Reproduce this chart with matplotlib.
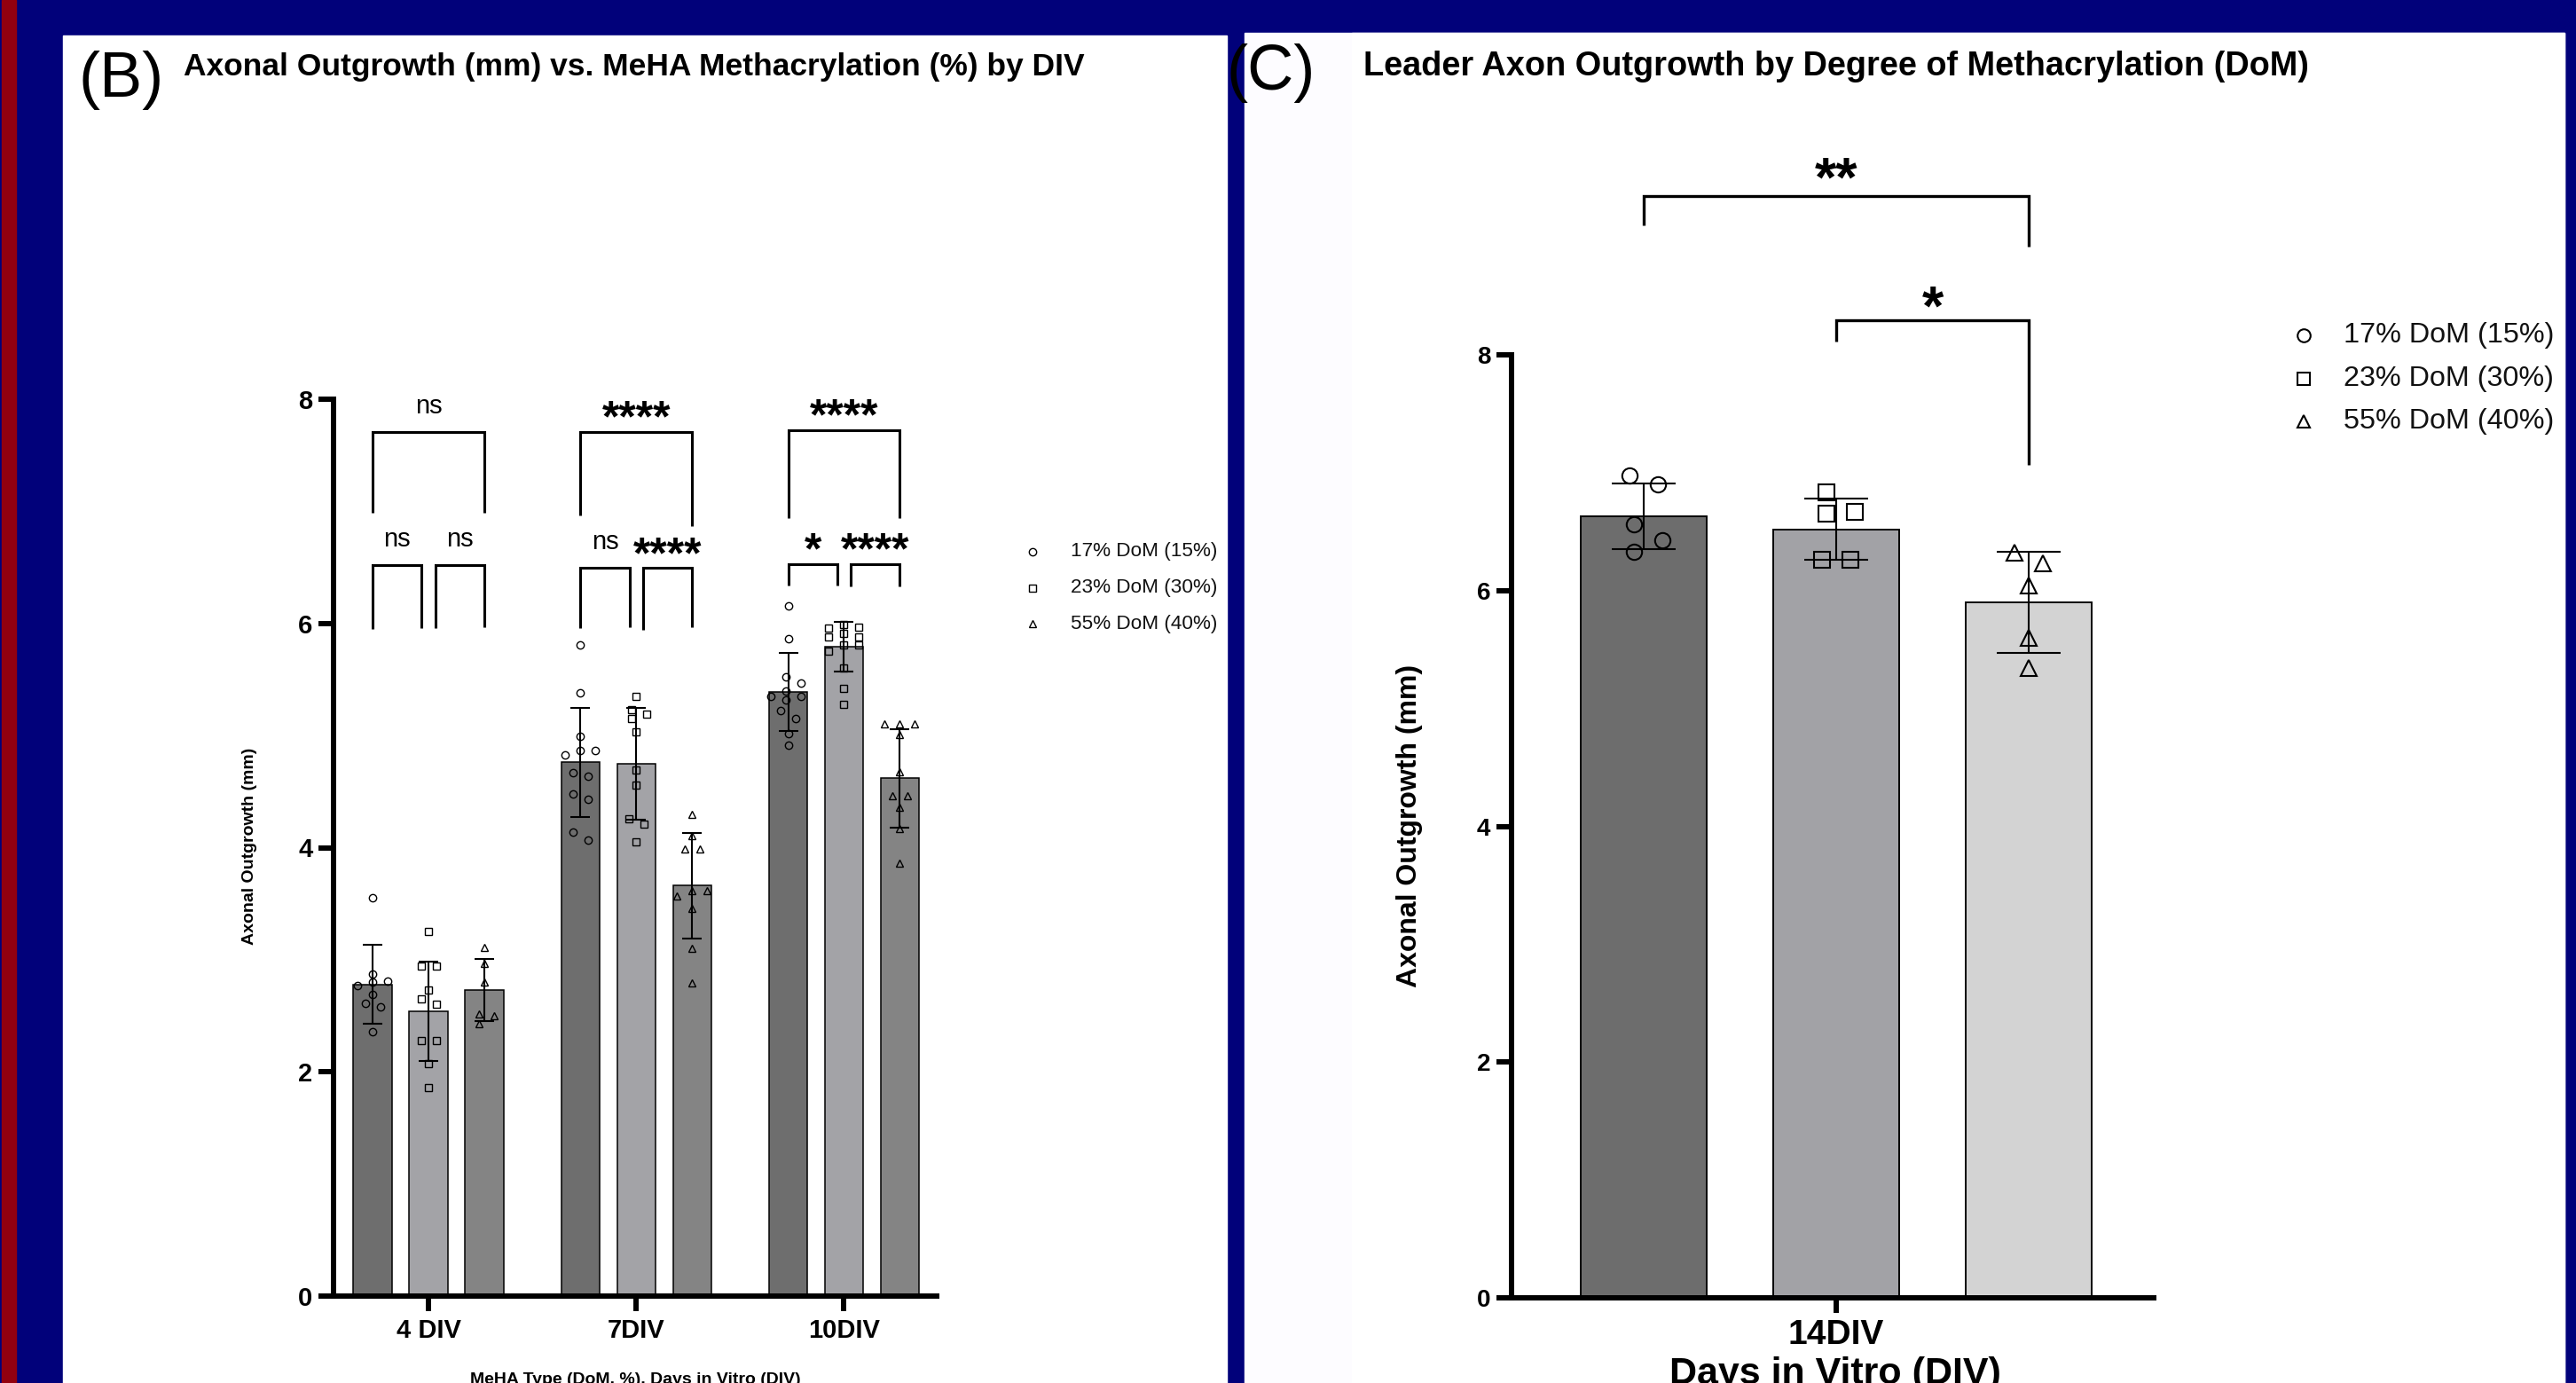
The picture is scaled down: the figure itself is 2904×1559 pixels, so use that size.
import numpy as np
import matplotlib
matplotlib.use("Agg")
import matplotlib.pyplot as plt
import matplotlib.transforms as mtransforms
from matplotlib.patches import Rectangle
from matplotlib.lines import Line2D

plt.rcParams['font.family'] = ['Liberation Sans', 'DejaVu Sans']

W, H = 2904, 1559
DPI = 100

# --- data ---
series = ["17% DoM (15%)", "23% DoM (30%)", "55% DoM (40%)"]
markers = ["o", "s", "^"]

# panel B: outgrowth by DIV (rows = DIV groups, columns = series)
b_groups = ["4 DIV", "7DIV", "10DIV"]
b_means = [[2.78, 2.54, 2.73],
           [4.76, 4.75, 3.66],
           [5.39, 5.79, 4.62]]
b_sd = [[0.35, 0.44, 0.28],
        [0.49, 0.50, 0.47],
        [0.35, 0.22, 0.44]]
b_pts_4div = [[3.55, 2.87, 2.81, 2.80, 2.77, 2.69, 2.61, 2.58, 2.36],
              [3.25, 2.94, 2.94, 2.73, 2.65, 2.60, 2.28, 2.28, 2.07, 1.86],
              [3.11, 2.97, 2.80, 2.52, 2.50, 2.43]]
b_pts_7div = [[5.81, 5.38, 4.99, 4.87, 4.87, 4.83, 4.67, 4.64, 4.48, 4.43, 4.14, 4.07],
              [5.35, 5.23, 5.19, 5.15, 5.03, 4.69, 4.56, 4.26, 4.21, 4.05],
              [4.30, 4.11, 3.99, 3.99, 3.62, 3.62, 3.57, 3.46, 3.10, 2.79]]
b_pts_10div = [[6.16, 5.86, 5.52, 5.47, 5.40, 5.35, 5.35, 5.32, 5.22, 5.15, 5.02, 4.91],
               [5.99, 5.97, 5.96, 5.91, 5.88, 5.88, 5.81, 5.81, 5.75, 5.60, 5.42, 5.28],
               [5.10, 5.10, 5.10, 5.01, 4.68, 4.46, 4.46, 4.36, 4.17, 3.86]]
b_points = [b_pts_4div, b_pts_7div, b_pts_10div]

# significance brackets per group: (bar a, bar b, top, left end, right end, label, label y)
b_sig_4div = [(0, 2, 7.71, 6.99, 6.99, "ns", 7.93),
              (0, 1, 6.52, 5.95, 5.96, "ns", 6.75),
              (1, 2, 6.52, 5.96, 5.97, "ns", 6.75)]
b_sig_7div = [(0, 2, 7.71, 6.96, 6.87, "****", 7.91),
              (0, 1, 6.50, 5.96, 5.97, "ns", 6.72),
              (1, 2, 6.50, 5.94, 5.97, "****", 6.69)]
b_sig_10div = [(0, 2, 7.72, 6.94, 6.94, "****", 7.93),
               (0, 1, 6.53, 6.34, 6.34, "*", 6.73),
               (1, 2, 6.53, 6.33, 6.33, "****", 6.73)]
b_sig = [b_sig_4div, b_sig_7div, b_sig_10div]

# panel C: 14 DIV leader axon
c_group = "14DIV"
c_means = [6.63, 6.52, 5.90]
c_sd = [0.28, 0.26, 0.43]
c_points = [[6.98, 6.90, 6.56, 6.43, 6.33],
            [6.83, 6.67, 6.65, 6.26, 6.26],
            [6.32, 6.23, 6.04, 5.60, 5.34]]
c_sig = [(0, 2, 9.35, 9.10, 8.92, "**", 9.56),
         (1, 2, 8.29, 8.11, 7.07, "*", 8.47)]

b_colors = ["#6e6e6e", "#a3a3a7", "#848484"]
c_colors = ["#6d6d6d", "#a2a2a6", "#d3d3d3"]


def fx(x):
    return x / W


def fy(y):
    return 1 - y / H


def swarm(vals, d, thr):
    # simple beeswarm: place each point at the nearest free column, then recenter clusters
    vals = np.asarray(vals, dtype=float)
    order = np.argsort(-vals, kind="stable")
    offs = np.zeros(len(vals))
    placed = []
    for i in order:
        for k in [0, 1, -1, 2, -2, 3, -3]:
            o = k * d
            if all(abs(vals[i] - vals[j]) >= thr or abs(o - offs[j]) >= d * 0.99 for j in placed):
                break
        offs[i] = o
        placed.append(i)
    cluster = [order[0]]
    for a, b in zip(order[:-1], order[1:]):
        if vals[a] - vals[b] < thr:
            cluster.append(b)
        else:
            offs[cluster] -= offs[cluster].mean()
            cluster = [b]
    offs[cluster] -= offs[cluster].mean()
    return offs


def style_axes(ax, lw=4.3):
    ax.set_facecolor("none")
    for s in ["top", "right"]:
        ax.spines[s].set_visible(False)
    for s in ["left", "bottom"]:
        ax.spines[s].set_linewidth(lw)
    ax.tick_params(length=12, width=lw, direction="out", colors="black")


def sig_label(ax, x, y, label, fs_star, fs_ns, star_shift=0.50):
    if "*" in label:
        tr = mtransforms.offset_copy(ax.transData, fig=ax.figure, y=-star_shift * fs_star, units="points")
        ax.text(x, y, label, ha="center", va="baseline", fontsize=fs_star,
                fontweight="bold", transform=tr, clip_on=False)
    else:
        tr = mtransforms.offset_copy(ax.transData, fig=ax.figure, y=-0.26 * fs_ns, units="points")
        ax.text(x, y, label, ha="center", va="baseline", fontsize=fs_ns,
                transform=tr, clip_on=False)


fig = plt.figure(figsize=(W / DPI, H / DPI), dpi=DPI, facecolor="#01017a")

# background panels
fig.add_artist(Rectangle((fx(2), 0), 16 / W, 1, color="#92000f", transform=fig.transFigure, zorder=0))
fig.add_artist(Rectangle((fx(71), 0), (1383 - 71) / W, fy(40), color="white",
                         transform=fig.transFigure, zorder=0))
fig.add_artist(Rectangle((fx(1403), 0), (2891 - 1403) / W, fy(37), color="#fdfcff",
                         transform=fig.transFigure, zorder=0))
fig.add_artist(Rectangle((fx(1524), 0), (2891 - 1524) / W, fy(37), color="white",
                         transform=fig.transFigure, zorder=0))

# ---------------- panel B ----------------
axb = fig.add_axes([fx(376), fy(1461), (1056 - 376) / W, (1461 - 450) / H])
style_axes(axb)
group_step = 3.72
for g in range(3):
    for j in range(3):
        x = g * group_step + j
        axb.bar(x, b_means[g][j], width=0.69, color=b_colors[j], edgecolor="black",
                linewidth=1.1, zorder=2)
        axb.errorbar(x, b_means[g][j], yerr=b_sd[g][j], fmt="none", ecolor="black",
                     elinewidth=1.5, capsize=7.6, capthick=1.5, zorder=3)
        pts = b_points[g][j]
        offs = swarm(pts, 0.27, 0.07)
        axb.plot(x + offs, pts, linestyle="none", marker=markers[j], mfc="none",
                 mec="black", ms=6, mew=1.0, zorder=4, clip_on=False)
    gap = 0.12
    for a, b, top, yl, yr, lab, ylab in b_sig[g]:
        x1 = g * group_step + a + (gap if a == 1 else 0)
        x2 = g * group_step + b - (gap if b == 1 else 0)
        axb.plot([x1, x1, x2, x2], [yl, top, top, yr], color="black", lw=2.2,
                 clip_on=False, solid_joinstyle="miter", solid_capstyle="butt")
        sig_label(axb, (x1 + x2) / 2, ylab, lab, 36, 21, star_shift=0.50)

axb.set_xlim(-0.70, 10.1)
axb.set_ylim(0, 8)
axb.set_yticks([0, 2, 4, 6, 8])
axb.set_xticks([g * group_step + 1 for g in range(3)])
axb.set_xticklabels(b_groups, fontsize=21, fontweight="bold")
axb.tick_params(axis="y", labelsize=21, pad=5)
axb.tick_params(axis="x", pad=6)
for t in axb.get_yticklabels():
    t.set_fontweight("bold")

fig.text(fx(137), fy(90), "(B)", fontsize=52, ha="center", va="center")
fig.text(fx(207), fy(76), "Axonal Outgrowth (mm) vs. MeHA Methacrylation (%) by DIV",
         fontsize=25.5, fontweight="bold", ha="left", va="center")
fig.text(fx(281), fy(954), "Axonal Outgrowth (mm)", fontsize=14, fontweight="bold",
         rotation=90, ha="center", va="center")
fig.text(fx(716), fy(1555), "MeHA Type (DoM, %), Days in Vitro (DIV)", fontsize=14,
         fontweight="bold", ha="center", va="center")

for k in range(3):
    y = 622 + k * 40.5
    fig.add_artist(Line2D([fx(1164)], [fy(y)], marker=markers[k], ms=6, mfc="none",
                          mec="black", mew=1.0, transform=fig.transFigure))
    fig.text(fx(1207), fy(y), series[k], fontsize=16.2, ha="left", va="center", color="#111111")

# ---------------- panel C ----------------
axc = fig.add_axes([fx(1704), fy(1463), (2428 - 1704) / W, (1463 - 400) / H])
style_axes(axc)
for j in range(3):
    axc.bar(j, c_means[j], width=0.655, color=c_colors[j], edgecolor="black",
            linewidth=1.4, zorder=2)
    axc.errorbar(j, c_means[j], yerr=c_sd[j], fmt="none", ecolor="black",
                 elinewidth=1.5, capsize=26, capthick=1.5, zorder=3)
    offs = swarm(c_points[j], 0.146, 0.17)
    axc.plot(j + offs, c_points[j], linestyle="none", marker=markers[j], mfc="none",
             mec="black", ms=12.5, mew=1.5, zorder=4)
for a, b, top, yl, yr, lab, ylab in c_sig:
    axc.plot([a, a, b, b], [yl, top, top, yr], color="black", lw=2.4, clip_on=False,
             solid_joinstyle="miter", solid_capstyle="butt")
    sig_label(axc, (a + b) / 2, ylab, lab, 45, 24, star_shift=0.44)

axc.set_xlim(-0.687, 2.65)
axc.set_ylim(0, 8)
axc.set_yticks([0, 2, 4, 6, 8])
axc.set_xticks([1])
axc.set_xticklabels([c_group], fontsize=28, fontweight="bold")
axc.tick_params(axis="y", labelsize=20, pad=5)
axc.tick_params(axis="x", pad=5)
for t in axc.get_yticklabels():
    t.set_fontweight("bold")

fig.text(fx(1433), fy(83), "(C)", fontsize=52, ha="center", va="center")
fig.text(fx(1537), fy(75), "Leader Axon Outgrowth by Degree of Methacrylation (DoM)",
         fontsize=27.3, fontweight="bold", ha="left", va="center")
fig.text(fx(1589), fy(931), "Axonal Outgrowth (mm)", fontsize=23, fontweight="bold",
         rotation=90, ha="center", va="center")
fig.text(fx(2069), fy(1549), "Days in Vitro (DIV)", fontsize=31, fontweight="bold",
         ha="center", va="center")

for k in range(3):
    y = 378 + k * 48.5
    fig.add_artist(Line2D([fx(2597)], [fy(y)], marker=markers[k], ms=10.5, mfc="none",
                          mec="black", mew=1.5, transform=fig.transFigure))
    fig.text(fx(2642), fy(y), series[k], fontsize=23.3, ha="left", va="center", color="#111111")

fig.savefig("out.png", dpi=DPI, facecolor=fig.get_facecolor())
